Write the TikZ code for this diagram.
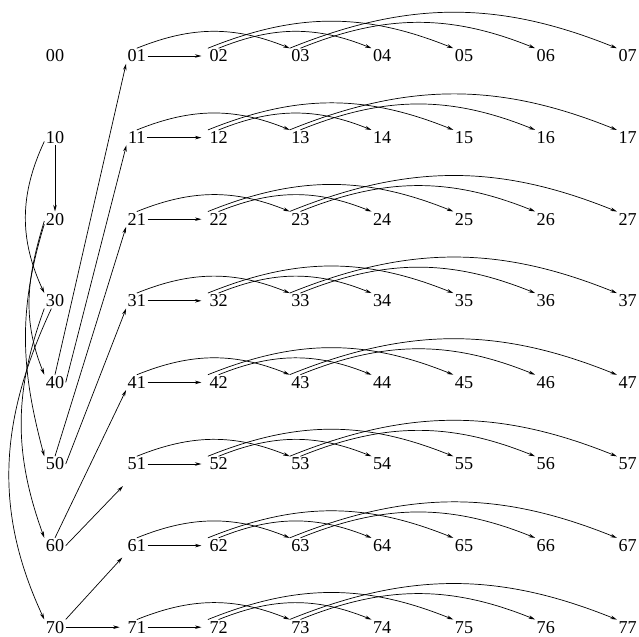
\documentclass[tikz,border=0pt]{standalone}
\usepackage{fontspec}
\setmainfont{Liberation Serif}
\usetikzlibrary{arrows.meta}

\begin{document}
\begin{tikzpicture}[
        x=0.03cm, y=0.03cm,
        >={Stealth[length=5.5pt,width=3pt]},
        cell/.style={
            inner sep=1.2pt,
            font=\fontsize{15.5}{18}\selectfont
        },
        flow/.style={->, line width=0.6pt},
        hflow/.style={flow, shorten >=5.5pt},
        jump/.style={flow, out=22, in=158}
    ]
        \useasboundingbox (0,0) rectangle (639,-636);

        % Grade de rótulos
        \foreach \r in {0,...,7}
            \foreach \c in {0,...,7}
                \node[cell] (n\r\c) at (55+81.8*\c, -56-81.6*\r) {\r\c};

        % Fluxo dentro de cada linha
        \foreach \r in {0,...,7} {
            \draw[hflow] (n\r1.east) -- (n\r2.west);
            \draw[jump] (n\r1.north) to (n\r3.north west);
            \draw[jump] (n\r2.north) to (n\r4.north west);
            \draw[jump] (n\r2.north west) to (n\r5.north west);
            \draw[jump] (n\r3.north) to (n\r6.north west);
            \draw[jump] (n\r3.north west) to (n\r7.north west);
        }

        % Coluna da esquerda
        \draw[flow] (n10.south) -- (n20.north);
        \draw[flow] (n10.200) to[out=245, in=115] (n30.north west);
        \draw[flow] (n20.190) to[out=253, in=112] (n40.north west);
        \draw[flow] (n20.205) to[out=253, in=105] (n50.north west);
        \draw[flow] (n30.south west) to[out=250, in=110] (n60.north west);
        \draw[flow] (n30.-115) to[out=245, in=115] (n70.north west);

        % Da coluna 0 para a coluna 1
        \draw[flow] (n40.north) -- (n01.south west);
        \draw[flow] (n40.east) -- (n11.south west);
        \draw[flow] (n50.north) -- (n21.south west);
        \draw[flow] (n50.east) -- (n31.south west);
        \draw[flow] (n60.north) -- (n41.south west);
        \draw[flow, shorten >=17pt] (n60.east) -- (n51.south);
        \draw[flow, shorten >=4.8pt] (n70.north east) -- (n61.south west);
        \draw[hflow] (n70.east) -- (n71.west);
    \end{tikzpicture}
\end{document}
